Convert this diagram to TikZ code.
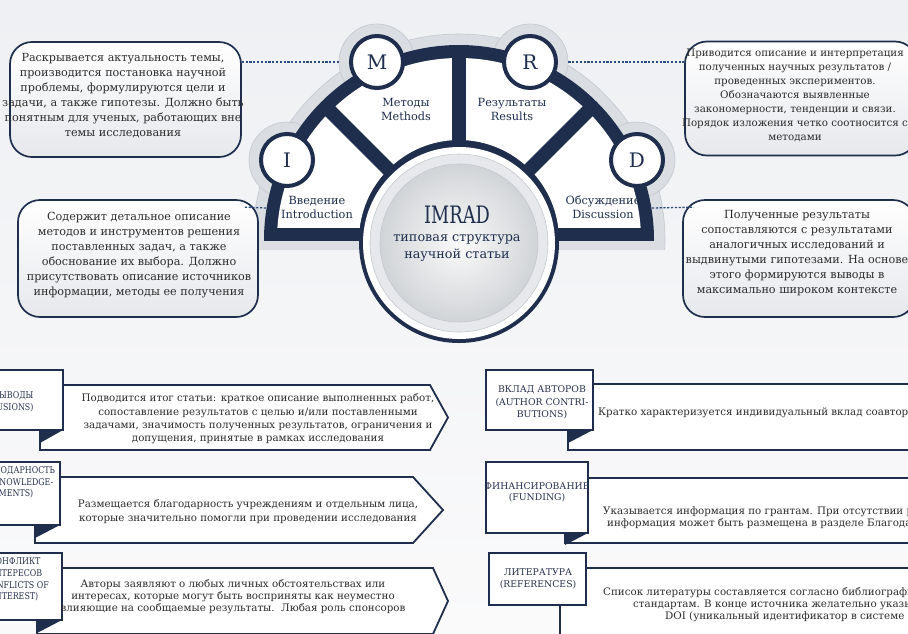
\documentclass[tikz,border=0pt]{standalone}
\usepackage{fontspec}
\setmainfont{DejaVu Serif}
\newfontfamily\condfont{DejaVu Serif}[FakeStretch=0.85]
\newfontfamily\narrowfont{DejaVu Serif}[FakeStretch=0.74]
\usetikzlibrary{calc}
\definecolor{navy}{HTML}{1F2E4D}
\definecolor{halo}{HTML}{DADDE1}
\definecolor{halod}{HTML}{C4C8CE}
\definecolor{dotc}{HTML}{2B4C7E}
\definecolor{txt}{HTML}{2C2C2C}
\definecolor{ttl}{HTML}{27324D}
\definecolor{boxbot}{HTML}{E6E8EC}
\definecolor{bgtop}{HTML}{EEF0F3}
\definecolor{bgbot}{HTML}{FAFAFB}
\tikzset{
  infobox/.style={draw=navy, line width=1.7pt, rounded corners=22pt, top color=white, bottom color=boxbot, inner sep=0pt},
  infotext/.style={text=txt, align=center, font=\fontsize{11.2}{15}\selectfont},
  dotl/.style={draw=dotc, line width=1.3pt, dash pattern=on 2.2pt off 1.6pt},
  letterhalo/.style={circle, fill=halo, draw=halod, line width=0.6pt, minimum size=76pt, inner sep=0pt},
  letter/.style={circle, draw=navy, line width=4pt, fill=white, minimum size=52pt, inner sep=0pt, text=navy, font=\fontsize{20}{20}\selectfont},
  seclbl/.style={text=navy, align=center, font=\fontsize{11.3}{13.5}\selectfont},
  bann/.style={draw=navy, line width=1.8pt, fill=white},
  tbox/.style={draw=navy, line width=1.8pt, fill=white, inner sep=0pt},
  ttext/.style={text=ttl, align=center, font=\fontsize{9.3}{11.8}\selectfont},
  btext/.style={text=txt, align=center, font=\fontsize{10.3}{13.3}\selectfont},
  bline/.style={text=txt, anchor=west, inner sep=0pt, font=\fontsize{10.3}{13}\selectfont}
}
\begin{document}
\begin{tikzpicture}[x=1pt,y=-1pt]
\useasboundingbox (0,0) rectangle (908,633);
\clip (0,0) rectangle (908,633);
\shade[top color=bgtop, bottom color=bgbot] (0,0) rectangle (908,633);

% ---------- semicircle ----------
\coordinate (C) at (459,240);
\begin{scope}
  \clip (0,0) rectangle (908,249);
  \filldraw[fill=halo, draw=halod, line width=0.6pt] (C) circle (206);
\end{scope}
\node[letterhalo] (Ih) at (287,160) {};
\node[letterhalo] (Mh) at (377,62) {};
\node[letterhalo] (Rh) at (530,62) {};
\node[letterhalo] (Dh) at (637,160) {};
\begin{scope}
  \clip (0,0) rectangle (908,240);
  \fill[navy] (C) circle (195);
\end{scope}
\begin{scope}
  \clip (0,0) rectangle (908,227);
  \fill[white, even odd rule] (C) circle (182) (C) circle (100);
\end{scope}
\draw[navy, line width=14pt] ($(C)+(-69.3,-69.3)$) -- ($(C)+(-134.4,-134.4)$);
\draw[navy, line width=14pt] ($(C)+(0,-98)$) -- ($(C)+(0,-190)$);
\draw[navy, line width=14pt] ($(C)+(69.3,-69.3)$) -- ($(C)+(134.4,-134.4)$);

\node[seclbl] (lblI) at (317,207.5) {Введение\\Introduction};
\node[seclbl] (lblM) at (406,109.5) {Методы\\Methods};
\node[seclbl] (lblR) at (512,109.5) {Результаты\\Results};
\node[seclbl] (lblD) at (603,207) {Обсуждение\\Discussion};

% center circle
\coordinate (CC) at (459,243);
\fill[navy] (CC) circle (100);
\fill[white] (CC) circle (96);
\filldraw[fill=boxbot, draw=halod, line width=0.6pt] (CC) circle (89);
\shade[inner color=white!96!gray, outer color=halo!90!gray] (CC) circle (79);
\draw[halod, line width=0.6pt] (CC) circle (79);
\node[text=navy, inner sep=0pt, font=\narrowfont\fontsize{24}{24}\selectfont] (imrad) at (457,215) {IMRAD};
\node[text=navy, align=center, font=\fontsize{12.8}{17}\selectfont] (sub) at (457,248.5) {типовая структура\\научной статьи};

\node[letter] (I) at (Ih) {I};
\node[letter] (M) at (Mh) {M};
\node[letter] (R) at (Rh) {R};
\node[letter] (D) at (Dh) {D};

% ---------- info boxes ----------
\node[infobox, minimum width=231pt, minimum height=115pt] (TLbox) at (125.5,99.5) {};
\node[infotext] (TLtext) at (123,95.5) {Раскрывается актуальность темы,\\производится постановка научной\\проблемы, формулируются цели и\\задачи, а также гипотезы. Должно быть\\понятным для ученых, работающих вне\\темы исследования};
\node[infobox, minimum width=232pt, minimum height=114pt] (TRbox) at (801,98.5) {};
\node[infotext, font=\fontsize{10.3}{14}\selectfont] (TRtext) at (795,95) {Приводится описание и интерпретация\\полученных научных результатов /\\проведенных экспериментов.\\Обозначаются выявленные\\закономерности, тенденции и связи.\\Порядок изложения четко соотносится с\\методами};
\node[infobox, minimum width=240pt, minimum height=117pt] (MLbox) at (138,258.5) {};
\node[infotext] (MLtext) at (139,255.5) {Содержит детальное описание\\методов и инструментов решения\\поставленных задач, а также\\обоснование их выбора. Должно\\присутствовать описание источников\\информации, методы ее получения};
\node[infobox, minimum width=232pt, minimum height=117pt] (MRbox) at (799,258.5) {};
\node[infotext] (MRtext) at (797,253.5) {Полученные результаты\\сопоставляются с результатами\\аналогичных исследований и\\выдвинутыми гипотезами. На основе\\этого формируются выводы в\\максимально широком контексте};

\coordinate (mlend) at (266,208);
\coordinate (mrend) at (652,208);
\draw[dotl] (TLbox.east |- Mh.center) -- (Mh.west);
\draw[dotl] (Rh.east) -- (TRbox.west |- Rh.center);
\draw[dotl] ($(MLbox.north east)+(-14,8)$) -- (mlend);
\draw[dotl] (mrend) -- ($(MRbox.north west)+(12,8)$);

% ---------- bottom banners, left ----------
\draw[bann] (40,385) -- (430,385) -- (448,417.5) -- (430,450) -- (40,450) -- cycle;
\node[tbox, minimum width=95pt, minimum height=60pt] (c1box) at (15.5,400) {};
\fill[navy] (40,430) -- (63,430) -- (40,443) -- cycle;
\node[ttext, align=right, anchor=east, font=\condfont\fontsize{9.3}{12}\selectfont] (c1title) at (37,402) {ВЫВОДЫ\\(CONCLUSIONS)};
\node[btext] (c1text) at (258,419) {Подводится итог статьи: краткое описание выполненных работ,\\сопоставление результатов с целью и/или поставленными\\задачами, значимость полученных результатов, ограничения и\\допущения, принятые в рамках исследования};

\draw[bann] (35,477) -- (413,477) -- (443,510) -- (413,543) -- (35,543) -- cycle;
\node[tbox, minimum width=90pt, minimum height=63pt] (c2box) at (15,493.5) {};
\fill[navy] (35,525) -- (60,525) -- (35,538) -- cycle;
\node[ttext, font=\condfont\fontsize{9.3}{11.5}\selectfont] (c2title) at (16,482.5) {БЛАГОДАРНОСТЬ\\(ACKNOWLEDGE-\\MENTS)};
\node[btext] (c2text) at (248,511.5) {Размещается благодарность учреждениям и отдельным лица,\\которые значительно помогли при проведении исследования};

\draw[bann] (37,568) -- (433,568) -- (448,601) -- (433,634) -- (37,634) -- cycle;
\node[tbox, minimum width=92pt, minimum height=67pt] (c3box) at (16,586.5) {};
\fill[navy] (37,620) -- (62,620) -- (37,633) -- cycle;
\node[ttext, font=\condfont\fontsize{9.3}{11.7}\selectfont] (c3title) at (15,579.5) {КОНФЛИКТ\\ИНТЕРЕСОВ\\(CONFLICTS OF\\INTEREST)};
\node[btext, font=\fontsize{10.3}{12}\selectfont] (c3text) at (233,597) {Авторы заявляют о любых личных обстоятельствах или\\интересах, которые могут быть восприняты как неуместно\\влияющие на сообщаемые результаты.~~Любая роль спонсоров};

% ---------- bottom banners, right ----------
\draw[bann] (568,384) -- (925,384) -- (925,450) -- (568,450) -- cycle;
\node[tbox, minimum width=107pt, minimum height=60pt] (r1box) at (539.5,400) {};
\fill[navy] (568,430) -- (593,430) -- (568,443) -- cycle;
\node[ttext, font=\fontsize{9.3}{12.5}\selectfont] (r1title) at (542,402.5) {ВКЛАД АВТОРОВ\\(AUTHOR CONTRI-\\BUTIONS)};
\node[bline] (r1text) at (598,413) {Кратко характеризуется индивидуальный вклад соавторов};

\draw[bann] (565,478) -- (925,478) -- (925,543) -- (565,543) -- cycle;
\node[tbox, minimum width=102pt, minimum height=71pt] (r2box) at (537,497.5) {};
\fill[navy] (565,533) -- (588,533) -- (565,545) -- cycle;
\node[ttext, font=\fontsize{9.3}{11.5}\selectfont] (r2title) at (537,492.5) {ФИНАНСИРОВАНИЕ\\(FUNDING)};
\node[bline] (r2texta) at (603,512) {Указывается информация по грантам. При отсутствии раздела};
\node[bline] (r2textb) at (607,523.5) {информация может быть размещена в разделе Благодарность};

\draw[bann] (560,568) -- (925,568) -- (925,640) -- (560,640) -- cycle;
\node[tbox, minimum width=97pt, minimum height=52pt] (r3box) at (537.5,579) {};
\node[ttext, font=\fontsize{9.3}{12}\selectfont] (r3title) at (538,579) {ЛИТЕРАТУРА\\(REFERENCES)};
\node[bline] (r3texta) at (603,593) {Список литературы составляется согласно библиографическим};
\node[bline] (r3textb) at (633,605) {стандартам. В конце источника желательно указывать и};
\node[bline] (r3textc) at (665,616.5) {DOI (уникальный идентификатор в системе CrossRef)};
\end{tikzpicture}
\end{document}
